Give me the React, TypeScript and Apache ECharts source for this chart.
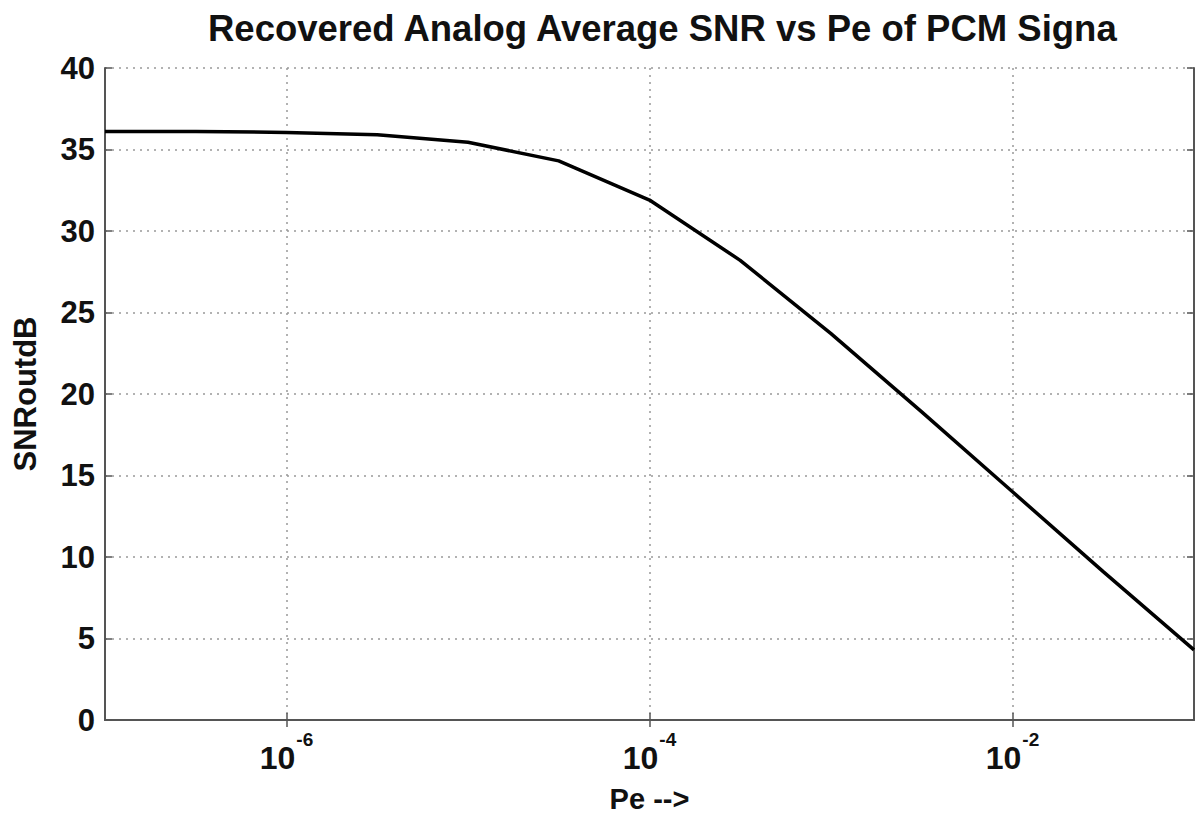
import React, { useEffect, useRef } from "react";
import * as echarts from "echarts";

const peValues = [1e-7, 3.16e-7, 1e-6, 3.16e-6, 1e-5, 3.16e-5, 1e-4, 3.16e-4, 1e-3, 3.16e-3, 1e-2, 3.16e-2, 1e-1];
const snrValues = [36.1, 36.1, 36.05, 35.9, 35.45, 34.3, 31.9, 28.2, 23.7, 18.9, 14.0, 9.1, 4.3];
const xTickValues = [1e-6, 1e-4, 1e-2];
const yTicks = [0, 5, 10, 15, 20, 25, 30, 35, 40];
const titleText = "Recovered Analog Average SNR vs Pe of PCM Signa";
const xName = "Pe -->";
const yName = "SNRoutdB";

const FONT = "'Liberation Sans', Arial, Helvetica, sans-serif";

export default function App() {
  const ref = useRef<HTMLDivElement>(null);
  useEffect(() => {
    document.body.style.margin = "0";
    if (!ref.current) return;
    const chart = echarts.init(ref.current, null, { renderer: "svg" });
    const axisColor = "#555";
    const labelFmt = (v: number) => {
      const e = Math.round(Math.log10(v));
      return `{b|10}{s|${e}}`;
    };
    chart.setOption({
      animation: false,
      backgroundColor: "#fff",
      title: {
        text: titleText,
        left: 203,
        top: 5,
        textStyle: { fontFamily: FONT, fontSize: 36.5, fontWeight: "bold", color: "#111" },
      },
      grid: { left: 105, right: 2, top: 68, bottom: 100, outerBoundsMode: "none", containLabel: false },
      xAxis: [
        {
          type: "log",
          logBase: 10,
          min: 1e-7,
          max: 1e-1,
          name: xName,
          nameLocation: "middle",
          nameGap: 64,
          nameTextStyle: { fontFamily: FONT, fontSize: 29, fontWeight: "bold", color: "#111" },
          axisLine: { show: true, lineStyle: { color: axisColor, width: 2 } },
          axisTick: { show: true, inside: true, length: 7, customValues: xTickValues, lineStyle: { color: axisColor, width: 1.5 } },
          splitLine: { show: true, lineStyle: { color: "#999", type: [2, 5], width: 1.5 } },
          minorTick: { show: false },
          axisLabel: {
            formatter: labelFmt,
            customValues: xTickValues,
            margin: 10,
            rich: {
              b: { fontFamily: FONT, fontSize: 32, fontWeight: "bold", color: "#111", lineHeight: 44, verticalAlign: "bottom" },
              s: { fontFamily: FONT, fontSize: 19, fontWeight: "bold", color: "#111", verticalAlign: "top", padding: [0, 0, 0, 1] },
            },
          },
        },
        {
          type: "log",
          logBase: 10,
          position: "top",
          min: 1e-7,
          max: 1e-1,
          axisLine: { show: true, lineStyle: { color: axisColor, width: 2 } },
          axisTick: { show: true, inside: true, length: 7, customValues: xTickValues, lineStyle: { color: axisColor, width: 1.5 } },
          axisLabel: { show: false },
          splitLine: { show: false },
        },
      ],
      yAxis: [
        {
          type: "value",
          min: yTicks[0],
          max: yTicks[yTicks.length - 1],
          interval: 5,
          name: yName,
          nameLocation: "middle",
          nameGap: 64,
          nameTextStyle: { fontFamily: FONT, fontSize: 31, fontWeight: "bold", color: "#111" },
          axisLine: { show: true, lineStyle: { color: axisColor, width: 2 } },
          axisTick: { show: true, inside: true, length: 7, lineStyle: { color: axisColor, width: 1.5 } },
          splitLine: { show: true, lineStyle: { color: "#999", type: [2, 5], width: 1.5 } },
          axisLabel: { fontFamily: FONT, fontSize: 31, fontWeight: "bold", color: "#111", margin: 10 },
        },
        {
          type: "value",
          position: "right",
          min: yTicks[0],
          max: yTicks[yTicks.length - 1],
          interval: 5,
          axisLine: { show: true, lineStyle: { color: axisColor, width: 2 } },
          axisTick: { show: true, inside: true, length: 7, lineStyle: { color: axisColor, width: 1.5 } },
          axisLabel: { show: false },
          splitLine: { show: false },
        },
      ],
      series: [
        {
          type: "line",
          data: peValues.map((p, i) => [p, snrValues[i]]),
          showSymbol: false,
          symbol: "none",
          lineStyle: { color: "#000", width: 3.5 },
          clip: true,
        },
      ],
    });
    return () => chart.dispose();
  }, []);
  return <div ref={ref} style={{ width: 1196, height: 820 }} />;
}
